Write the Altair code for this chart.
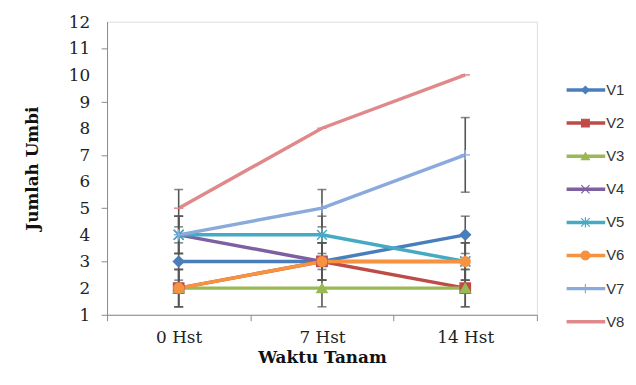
import altair as alt
import pandas as pd

times = ["0 Hst", "7 Hst", "14 Hst"]
series = ["V1", "V2", "V3", "V4", "V5", "V6", "V7", "V8"]
values = {
    "V1": [3, 3, 4],
    "V2": [2, 3, 2],
    "V3": [2, 2, 2],
    "V4": [4, 3, 3],
    "V5": [4, 4, 3],
    "V6": [2, 3, 3],
    "V7": [4, 5, 7],
    "V8": [5, 8, 10],
}
errors = {
    "V1": [0.7, 0.7, 0.7],
    "V2": [0.7, 0.7, 0.7],
    "V3": [0.7, 0.7, 0.7],
    "V4": [0.7, 0.7, 0.7],
    "V5": [0.7, 0.7, 0.7],
    "V6": [0.7, 0.7, 0.7],
    "V7": [0.7, 0.7, 1.4],
    "V8": [0.7, 0, 0],
}
y_ticks = list(range(1, 13))
colors = ["#4A7EBB", "#BE4B48", "#98B954", "#7D60A0", "#46AAC5", "#F69240", "#8BAADC", "#E0898B"]
shapes = [
    "diamond", "square", "triangle-up",
    "M-1,-1L1,1M-1,1L1,-1",
    "M-1,-1L1,1M-1,1L1,-1M0,-1.2L0,1.2",
    "circle",
    "M-1,0L1,0M0,-1L0,1",
    "M-1,0L1,0",
]
line_widths = [3.5, 3.5, 3.5, 3.5, 3.5, 3.5, 2.5, 2.5]
marker_sizes = [110, 90, 100, 110, 110, 200, 110, 60]
legend_sizes = [55, 90, 55, 90, 90, 110, 90, 30]

rows = []
for s in series:
    for i, t in enumerate(times):
        v = values[s][i]
        e = errors[s][i]
        rows.append({"series": s, "time": t, "value": v, "err": e, "lo": v - e, "hi": v + e})
df = pd.DataFrame(rows)
leg = pd.DataFrame({"series": series})
ticks_df = pd.DataFrame({"value": y_ticks, "label": [str(v) for v in y_ticks]})

color_scale = alt.Scale(domain=series, range=colors)
shape_scale = alt.Scale(domain=series, range=shapes)
width_scale = alt.Scale(domain=series, range=line_widths)

serif = "DejaVu Serif"

x_enc = alt.X(
    "time:N",
    sort=times,
    bandPosition=0.5,
    scale=alt.Scale(type="band", paddingInner=0, paddingOuter=0),
    axis=alt.Axis(
        title="Waktu Tanam", labelAngle=0, tickBand="extent",
        labelFont=serif, labelFontSize=17, labelColor="#222",
        titleFont=serif, titleFontSize=17, titleFontWeight="bold", titleColor="#111",
        labelPadding=9, titlePadding=4, tickSize=6,
        domainColor="#8a8a8a", tickColor="#8a8a8a",
    ),
)
y_enc = alt.Y(
    "value:Q",
    scale=alt.Scale(domain=[1, 12], nice=False, zero=False),
    axis=alt.Axis(
        title="Jumlah Umbi", values=y_ticks, labels=False,
        titleFont=serif, titleFontSize=17, titleFontWeight="bold", titleColor="#111",
        titlePadding=60, tickSize=6, grid=False,
        domainColor="#8a8a8a", tickColor="#8a8a8a",
    ),
)

base = alt.Chart(df)

lines = base.mark_line().encode(
    x=x_enc, y=y_enc,
    color=alt.Color("series:N", scale=color_scale, legend=None),
    strokeWidth=alt.StrokeWidth("series:N", scale=width_scale, legend=None),
    order=alt.Order("order:Q"),
).transform_calculate(order="indexof(['0 Hst','7 Hst','14 Hst'], datum.time)")

tick_labels = alt.Chart(ticks_df).mark_text(
    align="right", baseline="middle", font=serif, fontSize=17, color="#222222", dy=1
).encode(x=alt.value(-17), y=alt.Y("value:Q"), text="label:N")

eb_data = base.transform_filter("datum.err > 0")
err_rule = eb_data.mark_rule(color="#555555", strokeWidth=1.6).encode(
    x=alt.X("time:N", sort=times, bandPosition=0.5),
    y=alt.Y("lo:Q"), y2="hi:Q",
)
cap_lo = eb_data.mark_tick(color="#555555", thickness=1.6, size=9).encode(
    x=alt.X("time:N", sort=times, bandPosition=0.5), y=alt.Y("lo:Q"),
)
cap_hi = eb_data.mark_tick(color="#555555", thickness=1.6, size=9).encode(
    x=alt.X("time:N", sort=times, bandPosition=0.5), y=alt.Y("hi:Q"),
)

points = base.mark_point(filled=True, strokeWidth=1.5, opacity=1).encode(
    x=alt.X("time:N", sort=times, bandPosition=0.5), y=alt.Y("value:Q"),
    fill=alt.Fill("series:N", scale=color_scale, legend=None),
    stroke=alt.Stroke("series:N", scale=color_scale, legend=None),
    shape=alt.Shape("series:N", scale=shape_scale, legend=None),
    size=alt.Size("series:N", scale=alt.Scale(domain=series, range=marker_sizes), legend=None),
)

main = alt.layer(lines, err_rule, cap_lo, cap_hi, points, tick_labels)

leg_y = alt.Y("series:N", sort=series,
              scale=alt.Scale(type="point", domain=series, range=[69, 303], padding=0),
              axis=None)
leg_base = alt.Chart(leg)
leg_lines = leg_base.mark_rule().encode(
    x=alt.value(464), x2=alt.value(503), y=leg_y,
    color=alt.Color("series:N", scale=color_scale, legend=None),
    strokeWidth=alt.StrokeWidth("series:N", scale=width_scale, legend=None),
)
leg_points = leg_base.mark_point(filled=True, strokeWidth=1.2, opacity=1).encode(
    x=alt.value(483), y=leg_y,
    fill=alt.Fill("series:N", scale=color_scale, legend=None),
    stroke=alt.Stroke("series:N", scale=color_scale, legend=None),
    shape=alt.Shape("series:N", scale=shape_scale, legend=None),
    size=alt.Size("series:N", scale=alt.Scale(domain=series, range=legend_sizes), legend=None),
)
leg_text = leg_base.mark_text(align="left", baseline="middle", font="Liberation Sans", fontSize=15, color="#333333").encode(
    x=alt.value(504), y=leg_y, text="series:N",
)
legend_layer = alt.layer(leg_lines, leg_points, leg_text)

chart = alt.layer(main, legend_layer).resolve_scale(
    y="independent", size="independent"
).properties(
    width=434, height=296,
    autosize=alt.AutoSizeParams(type="none"),
    padding={"left": 100, "top": 12, "right": 92, "bottom": 55},
).configure_view(stroke=None).configure(background="white")

chart.save("out.html", embed_options={"renderer": "svg", "actions": False})
